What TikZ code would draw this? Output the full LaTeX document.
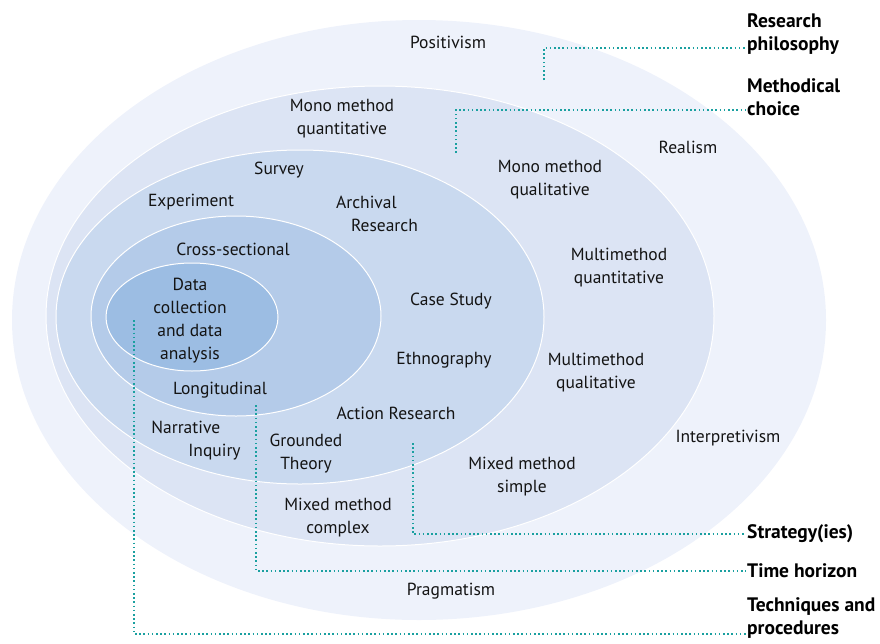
\documentclass[tikz,border=0pt]{standalone}
\usepackage{fontspec}
\setmainfont{PT Sans}
\definecolor{ringA}{HTML}{EEF2FB}
\definecolor{ringB}{HTML}{DCE4F4}
\definecolor{ringC}{HTML}{C9D9EF}
\definecolor{ringD}{HTML}{B4CBE9}
\definecolor{ringE}{HTML}{9CBDE3}
\definecolor{linkteal}{HTML}{1AA0A0}
\newcommand{\LblFont}{\fontsize{17.5}{23}\selectfont}
\newcommand{\KeyFont}{\fontsize{19.5}{23}\selectfont\bfseries}

\begin{document}
\begin{tikzpicture}[x=1pt,y=-1pt,
  ring/.style={draw=white, line width=1pt},
  lbl/.style={font=\LblFont, align=center, inner sep=1pt, text=black!92},
  key/.style={font=\KeyFont, align=left, anchor=west, inner sep=1pt},
  link/.style={draw=linkteal, line width=1.8pt, dash pattern=on 1.6pt off 2.6pt}]
\useasboundingbox (0,0) rectangle (880,643);

% the onion layers
\path[fill=ringA] (419,320) ellipse [x radius=407, y radius=300];
\path[fill=ringB, ring] (380,316) ellipse [x radius=334, y radius=230];
\path[fill=ringC, ring] (300,317) ellipse [x radius=244, y radius=167];
\path[fill=ringD, ring] (236,316) ellipse [x radius=145, y radius=100];
\path[fill=ringE, ring] (192,317) ellipse [x radius=86, y radius=54];

% research philosophy
\node[lbl] (posit) at (448,42) {Positivism};
\node[lbl] (realism) at (688,147) {Realism};
\node[lbl] (interp) at (728,438) {Interpretivism};
\node[lbl] (pragm) at (451,591) {Pragmatism};

% methodical choice
\node[lbl] (monoqt) at (342,119) {Mono method\\quantitative};
\node[lbl] (monoql) at (550,180) {Mono method\\qualitative};
\node[lbl] (multiqt) at (619,268) {Multimethod\\quantitative};
\node[lbl] (multiql) at (596,373) {Multimethod\\qualitative};
\node[lbl] (mixsim) at (522,477) {Mixed method\\simple};
\node[lbl] (mixcpx) at (338,518) {Mixed method\\complex};

% strategies
\node[lbl] (survey) at (279,170) {Survey};
\node[lbl] (exper) at (191,202) {Experiment};
\node[lbl, align=left] (archiv) at (377,214) {Archival\\\hspace*{15pt}Research};
\node[lbl] (casest) at (451,301) {Case Study};
\node[lbl] (ethno) at (444,360) {Ethnography};
\node[lbl] (action) at (396,413) {Action Research};
\node[lbl] (ground) at (306,454) {Grounded\\Theory};
\node[lbl, align=left] (narr) at (196,441) {Narrative\\\hspace*{37pt}Inquiry};

% time horizon
\node[lbl] (cross) at (233,249) {Cross-sectional};
\node[lbl] (longi) at (220,390) {Longitudinal};

% techniques and procedures
\node[lbl] (data) at (190,321) {Data\\collection\\and data\\analysis};

% layer names
\node[key] (kphil) at (746,34) {Research\\philosophy};
\node[key] (kmeth) at (746,97) {Methodical\\choice};
\node[key] (kstrat) at (746,534) {Strategy(ies)};
\node[key] (ktime) at (746,571) {Time horizon};
\node[key] (ktech) at (746,618) {Techniques and\\procedures};

\coordinate (phil-in) at (544,80);
\coordinate (phil-turn) at (544,48);
\coordinate (meth-in) at (456,153);
\coordinate (meth-turn) at (456,110);
\coordinate (strat-in) at (413,443);
\coordinate (time-in) at (256,405);
\coordinate (tech-in) at (134,320);
\coordinate (tech-turn) at (134,634);

\draw[link] (phil-in) -- (phil-turn) -- (phil-turn -| kphil.west);
\draw[link] (meth-in) -- (meth-turn) -- (meth-turn -| kmeth.west);
\draw[link] (strat-in) |- (kstrat.west);
\draw[link] (time-in) |- (ktime.west);
\draw[link] (tech-in) -- (tech-turn) -- (tech-turn -| ktech.west);
\end{tikzpicture}
\end{document}
